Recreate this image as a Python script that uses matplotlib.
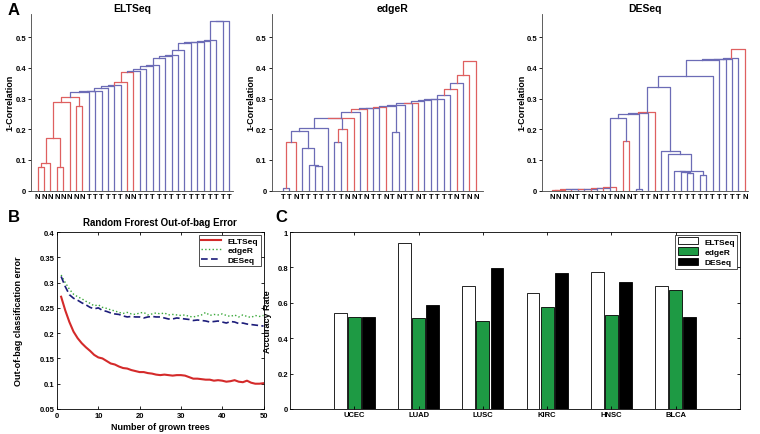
import matplotlib
matplotlib.use("Agg")
import matplotlib.pyplot as plt
import numpy as np

plt.rcParams['font.family'] = ['Liberation Sans', 'DejaVu Sans']
plt.rcParams['font.weight'] = 'bold'

RED = '#df6060'
BLUE = '#6c6cb6'

# ---------------- A: dendrograms ----------------
# merges: (left, right, height, colour); 'mK' is the cluster made by merge K
elt_labels = "NNNNNNNNTTTTTTNNTTTTTTTTTTTTTTT"
elt_merges = [(0, 1, 0.078, 'r'), ('m0', 2, 0.089, 'r'), (3, 4, 0.078, 'r'),
              ('m1', 'm2', 0.170, 'r'), ('m3', 5, 0.288, 'r'), (6, 7, 0.277, 'r'),
              ('m4', 'm5', 0.306, 'r')]
elt_chain_leaves = list(range(8, 31))
elt_chain_heights = [0.321, 0.323, 0.326, 0.335, 0.342, 0.345, 0.355, 0.385, 0.390,
                     0.395, 0.407, 0.410, 0.432, 0.437, 0.440, 0.458, 0.482, 0.483,
                     0.484, 0.488, 0.492, 0.551, 0.552]

edger_labels = "TTNTTTTTTTNNTNTTNTNTTNTTTTTNTNN"
edger_merges = [(0, 1, 0.008, 'b'), ('m0', 2, 0.157, 'r'), (5, 6, 0.081, 'b'),
                (4, 'm2', 0.084, 'b'), (3, 'm3', 0.139, 'b'), ('m1', 'm4', 0.195, 'b'),
                ('m5', 7, 0.203, 'b'), (8, 9, 0.157, 'b'), ('m7', 10, 0.201, 'r'),
                ('m6', 'm8', 0.235, 'b'), ('m9', 11, 0.237, 'r')]
edger_chain1_leaves = [12, 13, 14, 15, 16]
edger_chain1_heights = [0.257, 0.266, 0.268, 0.270, 0.272]
edger_mid = [(17, 18, 0.190, 'b'), ('m15', 'm16', 0.275, 'b')]
edger_chain2_leaves = list(range(19, 31))
edger_chain2_heights = [0.280, 0.284, 0.287, 0.291, 0.295, 0.298, 0.300, 0.313,
                        0.331, 0.349, 0.377, 0.422]

deseq_labels = "NNNNTTNTNTNNNTTTNTTTTTTTTTTTTTN"
deseq_first = [(0, 1, 0.002, 'r')]
deseq_chain1_leaves = list(range(2, 11))
deseq_chain1_heights = [0.003, 0.004, 0.004, 0.005, 0.006, 0.007, 0.008, 0.009, 0.011]
deseq_mid = [(11, 12, 0.163, 'r'), ('m9', 'm10', 0.238, 'b'), (13, 14, 0.006, 'b'),
             ('m11', 'm12', 0.250, 'b'), ('m13', 15, 0.252, 'b'), ('m14', 16, 0.255, 'r'),
             (21, 22, 0.058, 'b'), (20, 'm16', 0.061, 'b'), (19, 'm17', 0.063, 'b'),
             (23, 24, 0.050, 'b'), ('m18', 'm19', 0.064, 'b'), (18, 'm20', 0.120, 'b'),
             (17, 'm21', 0.130, 'b'), ('m15', 'm22', 0.337, 'b')]
deseq_chain2_leaves = list(range(25, 31))
deseq_chain2_heights = [0.372, 0.425, 0.427, 0.429, 0.431, 0.462]


def add_chain(merges, leaves, heights, labels):
    # each leaf joins the cluster built so far
    for leaf, h in zip(leaves, heights):
        prev = 'm%d' % (len(merges) - 1)
        merges.append((prev, leaf, h, 'r' if labels[leaf] == 'N' else 'b'))
    return merges


elt_tree = add_chain(list(elt_merges), elt_chain_leaves, elt_chain_heights, elt_labels)
edger_tree = add_chain(list(edger_merges), edger_chain1_leaves, edger_chain1_heights, edger_labels)
edger_tree += edger_mid
edger_tree = add_chain(edger_tree, edger_chain2_leaves, edger_chain2_heights, edger_labels)
deseq_tree = add_chain(list(deseq_first), deseq_chain1_leaves, deseq_chain1_heights, deseq_labels)
deseq_tree += deseq_mid
deseq_tree = add_chain(deseq_tree, deseq_chain2_leaves, deseq_chain2_heights, deseq_labels)


def draw_tree(ax, labels, merges, title, title_x, ylab_x):
    xpos = {i: i + 1 for i in range(len(labels))}
    ypos = {i: 0.0 for i in range(len(labels))}
    for k, (a, b, h, c) in enumerate(merges):
        ax.plot([xpos[a], xpos[a], xpos[b], xpos[b]], [ypos[a], h, h, ypos[b]],
                color=RED if c == 'r' else BLUE, lw=0.9)
        xpos['m%d' % k] = (xpos[a] + xpos[b]) / 2.0
        ypos['m%d' % k] = h
    ax.set_ylim(0, 0.575)
    ax.set_xticks(range(1, len(labels) + 1))
    ax.set_xticklabels(list(labels), fontsize=5.5, fontweight='bold')
    ax.set_yticks([0, 0.1, 0.2, 0.3, 0.4, 0.5])
    ax.set_yticklabels(['0', '0.1', '0.2', '0.3', '0.4', '0.5'], fontsize=5.5, fontweight='bold')
    ax.tick_params(axis='x', length=0, pad=2)
    ax.tick_params(axis='y', length=2, width=0.6, pad=1.5)
    for s in ['top', 'right']:
        ax.spines[s].set_visible(False)
    for s in ['left', 'bottom']:
        ax.spines[s].set_linewidth(0.6)
        ax.spines[s].set_color('#444444')
    ax.set_ylabel('1-Correlation', fontsize=6.5, fontweight='bold')
    ax.yaxis.set_label_coords(ylab_x, 0.5)
    ax.set_title(title, fontsize=7.5, fontweight='bold', pad=2.5, x=title_x)


W, H = 760.0, 435.0
fig = plt.figure(figsize=(7.6, 4.35), dpi=100)


def px_axes(x0, x1, y0, y1):
    return fig.add_axes([x0 / W, 1 - y1 / H, (x1 - x0) / W, (y1 - y0) / H])


ax1 = px_axes(31, 233, 15, 191.7)
draw_tree(ax1, elt_labels, elt_tree, 'ELTSeq', 0.5, -0.08)
ax1.set_xlim(-0.05, 31.6)

ax2 = px_axes(271.7, 483, 15, 191.7)
draw_tree(ax2, edger_labels, edger_tree, 'edgeR', 0.57, -0.078)
ax2.set_xlim(-0.76, 32.1)

ax3 = px_axes(542, 748, 15, 191.7)
draw_tree(ax3, deseq_labels, deseq_tree, 'DESeq', 0.5, -0.078)
ax3.set_xlim(-0.55, 31.5)

# ---------------- B: out-of-bag error ----------------
trees = np.arange(1, 51)
elt_err = [0.272, 0.245, 0.222, 0.203, 0.190, 0.180, 0.172, 0.165, 0.157, 0.152,
           0.150, 0.145, 0.140, 0.138, 0.134, 0.131, 0.130, 0.127, 0.125, 0.123,
           0.123, 0.121, 0.120, 0.118, 0.117, 0.118, 0.117, 0.116, 0.117, 0.117,
           0.116, 0.113, 0.110, 0.110, 0.109, 0.108, 0.108, 0.106, 0.107, 0.106,
           0.104, 0.105, 0.107, 0.104, 0.103, 0.106, 0.102, 0.100, 0.100, 0.101]
edger_err = [0.315, 0.300, 0.287, 0.277, 0.272, 0.268, 0.263, 0.259, 0.254, 0.256,
             0.251, 0.249, 0.246, 0.244, 0.241, 0.239, 0.241, 0.238, 0.237, 0.240,
             0.241, 0.236, 0.238, 0.240, 0.238, 0.240, 0.236, 0.237, 0.236, 0.235,
             0.236, 0.233, 0.232, 0.234, 0.236, 0.241, 0.235, 0.237, 0.236, 0.238,
             0.235, 0.233, 0.236, 0.232, 0.236, 0.233, 0.231, 0.235, 0.233, 0.235]
deseq_err = [0.312, 0.292, 0.276, 0.269, 0.265, 0.260, 0.256, 0.251, 0.248, 0.250,
             0.245, 0.243, 0.240, 0.238, 0.237, 0.234, 0.232, 0.233, 0.232, 0.232,
             0.230, 0.232, 0.233, 0.232, 0.232, 0.230, 0.228, 0.228, 0.230, 0.229,
             0.228, 0.227, 0.225, 0.226, 0.225, 0.224, 0.222, 0.223, 0.224, 0.222,
             0.220, 0.223, 0.222, 0.219, 0.220, 0.218, 0.217, 0.216, 0.215, 0.214]

axb = px_axes(57, 263.5, 233, 410)
axb.plot(trees, elt_err, color='#d42a2a', lw=1.5, label='ELTSeq')
axb.plot(trees, edger_err, color='#3aa83a', lw=1.0, ls=':', label='edgeR')
axb.plot(trees, deseq_err, color='#1c1c7a', lw=1.2, ls='--', dashes=(4, 2), label='DESeq')
axb.set_xlim(0, 50)
axb.set_ylim(0.05, 0.4)
axb.set_xticks([0, 10, 20, 30, 40, 50])
axb.set_yticks([0.05, 0.1, 0.15, 0.2, 0.25, 0.3, 0.35, 0.4])
axb.set_yticklabels(['0.05', '0.1', '0.15', '0.2', '0.25', '0.3', '0.35', '0.4'])
axb.tick_params(labelsize=5.5, direction='in', length=2.5, width=0.6, top=True, right=True, pad=2)
for s in axb.spines.values():
    s.set_linewidth(0.6)
axb.set_title('Random Frorest Out-of-bag Error', fontsize=7, fontweight='bold', pad=5)
axb.set_xlabel('Number of grown trees', fontsize=6.5, fontweight='bold', labelpad=2)
axb.set_ylabel('Out-of-bag classification error', fontsize=6.5, fontweight='bold')
axb.yaxis.set_label_coords(-0.165, 0.5)
lb = axb.legend(loc='upper right', fontsize=6, frameon=True, fancybox=False,
                edgecolor='black', handlelength=2.4, borderpad=0.3, labelspacing=0.2,
                borderaxespad=0.3)
lb.get_frame().set_linewidth(0.6)

# ---------------- C: accuracy ----------------
cancers = ['UCEC', 'LUAD', 'LUSC', 'KIRC', 'HNSC', 'BLCA']
acc_elt = [0.54, 0.94, 0.695, 0.655, 0.775, 0.695]
acc_edger = [0.52, 0.515, 0.50, 0.575, 0.53, 0.67]
acc_deseq = [0.52, 0.59, 0.795, 0.77, 0.72, 0.52]

axc = px_axes(290, 740, 233, 410)
pos = np.arange(1, len(cancers) + 1)
bw = 0.2
axc.bar(pos - 0.22, acc_elt, bw, color='white', edgecolor='black', lw=0.6, label='ELTSeq')
axc.bar(pos, acc_edger, bw, color='#1e9a44', edgecolor='black', lw=0.6, label='edgeR')
axc.bar(pos + 0.22, acc_deseq, bw, color='black', edgecolor='black', lw=0.6, label='DESeq')
axc.set_xlim(0, 7)
axc.set_ylim(0, 1)
axc.set_xticks(pos)
axc.set_xticklabels(cancers)
axc.set_yticks([0, 0.2, 0.4, 0.6, 0.8, 1])
axc.set_yticklabels(['0', '0.2', '0.4', '0.6', '0.8', '1'])
axc.tick_params(labelsize=5.5, direction='in', length=2.5, width=0.6, top=True, right=True, pad=1.5)
for s in axc.spines.values():
    s.set_linewidth(0.6)
axc.set_ylabel('Accuracy Rate', fontsize=6.5, fontweight='bold')
axc.yaxis.set_label_coords(-0.04, 0.5)
lc = axc.legend(loc='upper right', fontsize=6, frameon=True, fancybox=False,
                edgecolor='black', handlelength=2.4, handleheight=1.0, borderpad=0.3,
                labelspacing=0.2, borderaxespad=0.3)
lc.get_frame().set_linewidth(0.6)

# panel letters
fig.text(8 / W, 1 - 15 / H, 'A', fontsize=12, fontweight='bold')
fig.text(8 / W, 1 - 222 / H, 'B', fontsize=12, fontweight='bold')
fig.text(275 / W, 1 - 222 / H, 'C', fontsize=12, fontweight='bold')

fig.savefig('out.png', dpi=100)
